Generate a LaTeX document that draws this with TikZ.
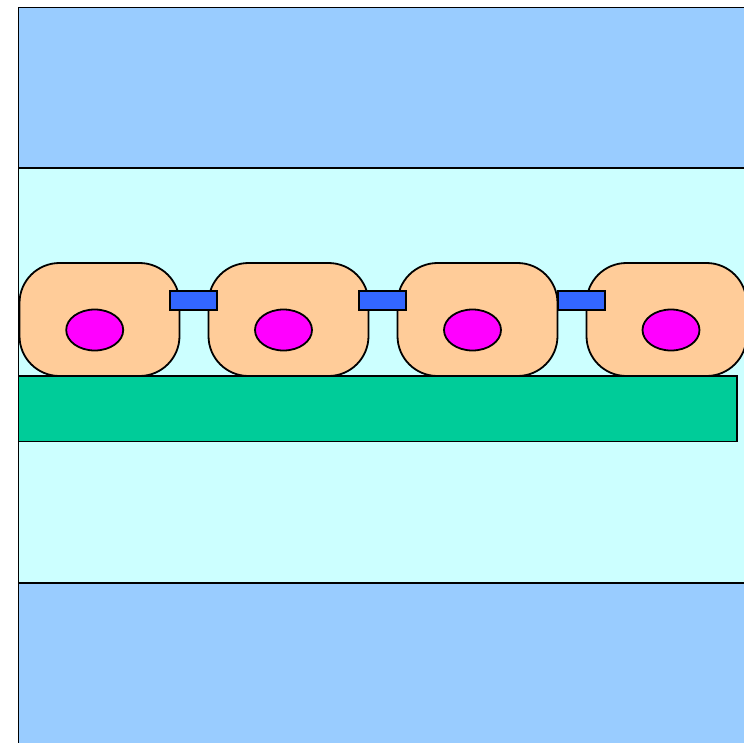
\documentclass[tikz,border=0pt]{standalone}
\usepackage{tikz}
\usetikzlibrary{shapes.geometric}

\definecolor{lumen}{HTML}{99CCFF}
\definecolor{medium}{HTML}{CCFFFF}
\definecolor{cyto}{HTML}{FFCC99}
\definecolor{junction}{HTML}{3366FF}
\definecolor{membrane}{HTML}{00CC99}
\definecolor{nucl}{HTML}{FF00FF}

\tikzset{
  cell/.style={draw, fill=cyto, rounded corners=40pt, minimum width=160pt, minimum height=113pt, inner sep=0pt, outer sep=0pt},
  nucleus/.style={draw, fill=nucl, ellipse, minimum width=57pt, minimum height=41pt, inner sep=0pt, outer sep=0pt},
  tightjn/.style={draw, fill=junction, minimum width=47pt, minimum height=19pt, inner sep=0pt, outer sep=0pt}
}

\begin{document}
\begin{tikzpicture}[x=1pt, y=-1pt, line width=1.8pt]
\useasboundingbox (0,0) rectangle (744,742);
\clip (0,0) rectangle (744,742);

% compartments
\draw[fill=lumen] (18.5,7.5) rectangle (770,168);
\draw[fill=medium] (18.5,168) rectangle (770,583);
\draw[fill=lumen] (18.5,583) rectangle (770,770);

% cell layer
\node[cell] (c1) at (99.5,319.5) {};
\node[cell] (c2) at (288.5,319.5) {};
\node[cell] (c3) at (477.5,319.5) {};
\node[cell] (c4) at (666.5,319.5) {};

\node[tightjn] (j1) at (193.5,300.5) {};
\node[tightjn] (j2) at (382.5,300.5) {};
\node[tightjn] (j3) at (581.3,300.5) {};

\node[nucleus] (n1) at (94.7,330) {};
\node[nucleus] (n2) at (283.5,330) {};
\node[nucleus] (n3) at (472.5,330) {};
\node[nucleus] (n4) at (671,330) {};

% basement membrane
\draw[fill=membrane] (18.5,376) rectangle (737,441.5);
\end{tikzpicture}
\end{document}
